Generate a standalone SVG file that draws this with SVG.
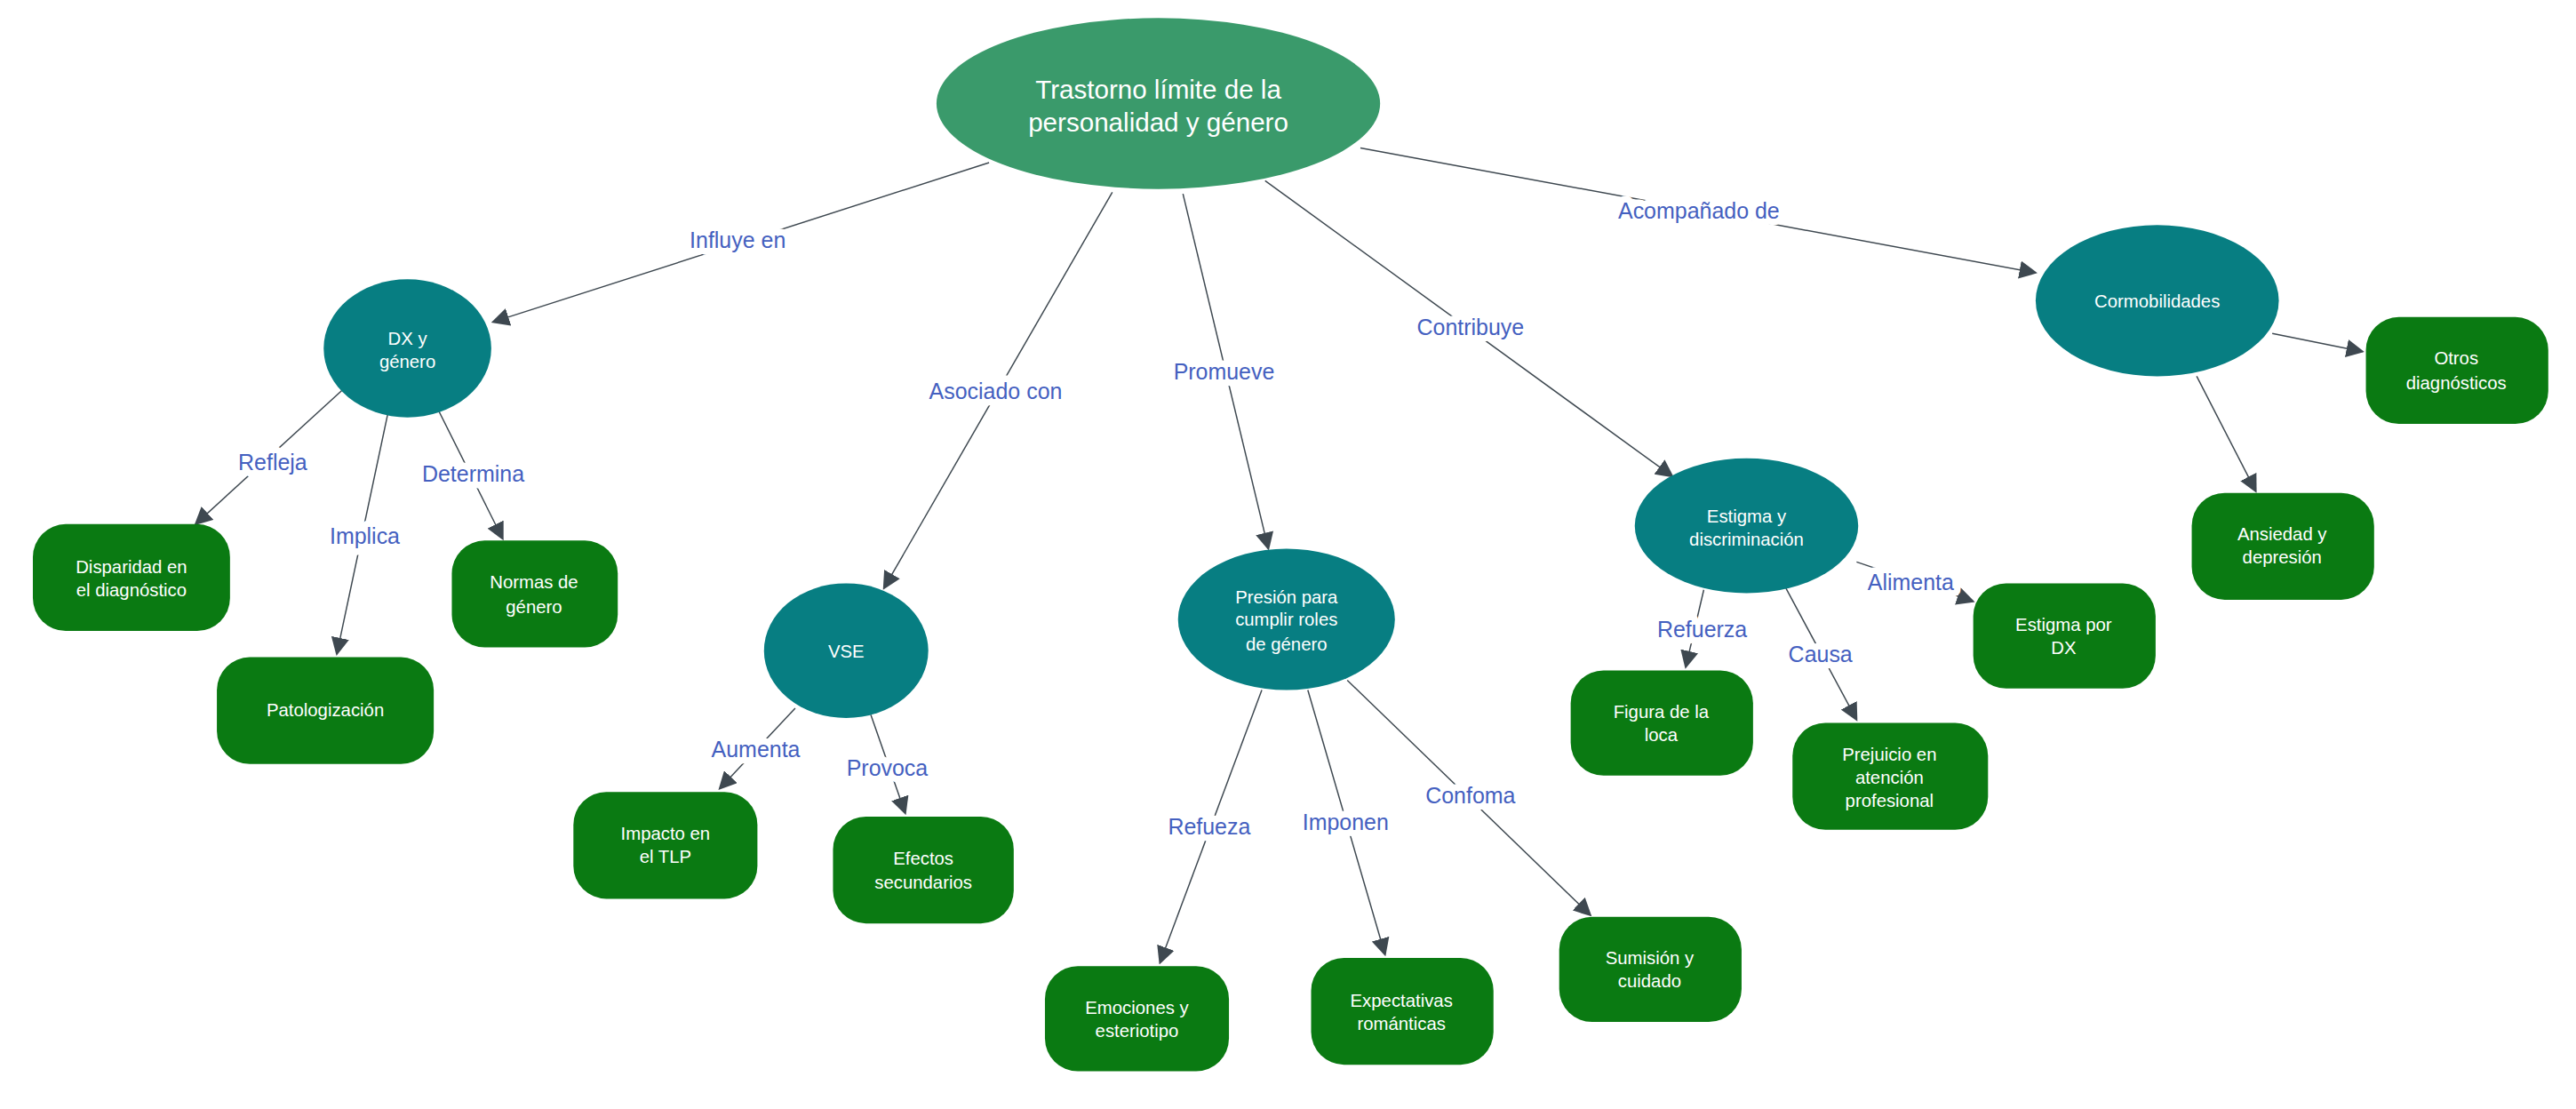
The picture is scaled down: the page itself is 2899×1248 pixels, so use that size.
<svg xmlns="http://www.w3.org/2000/svg" width="2899" height="1248" viewBox="0 0 2899 1248">
<style>
text{font-family:"Liberation Sans",Arial,sans-serif;text-anchor:middle}
.root{fill:#3a9a6b}
.ell{fill:#077e82}
.box{fill:#0a7a12}
.nt{fill:#fff;font-size:11px}
.rt{fill:#fff;font-size:16px}
.e{stroke:#3e4850;stroke-width:0.8;fill:none;marker-end:url(#ah)}
.lb{fill:#4460c0;font-size:13.5px;stroke:#fff;stroke-width:8;paint-order:stroke;stroke-linejoin:round}
</style>
<defs><marker id="ah" viewBox="0 0 10 10" refX="9" refY="5" markerWidth="11" markerHeight="11" markerUnits="userSpaceOnUse" orient="auto"><path d="M0,0L10,5L0,10z" fill="#3e4850"/></marker></defs>
<rect width="2899" height="1248" fill="#fff"/>
<g transform="scale(1.849)">
<g id="connectors">
<path class="e" d="M602,99L300,196"/><text class="lb" x="449" y="151">Influye en</text>
<path class="e" d="M677,117L538,358"/><text class="lb" x="606" y="243">Asociado con</text>
<path class="e" d="M720,118L772,334"/><text class="lb" x="745" y="231">Promueve</text>
<path class="e" d="M770,110L1018,290"/><text class="lb" x="895" y="204">Contribuye</text>
<path class="e" d="M828,90L1239,166"/><text class="lb" x="1034" y="133">Acompañado de</text>
<path class="e" d="M211,235L119,319"/><text class="lb" x="166" y="286">Refleja</text>
<path class="e" d="M236,252L205,398"/><text class="lb" x="222" y="331">Implica</text>
<path class="e" d="M267,250L306,328"/><text class="lb" x="288" y="293">Determina</text>
<path class="e" d="M484,431L438,480"/><text class="lb" x="460" y="461">Aumenta</text>
<path class="e" d="M530,435L551,495"/><text class="lb" x="540" y="472">Provoca</text>
<path class="e" d="M768,420L706,586"/><text class="lb" x="736" y="508">Refueza</text>
<path class="e" d="M796,420L843,581"/><text class="lb" x="819" y="505">Imponen</text>
<path class="e" d="M820,414L968,557"/><text class="lb" x="895" y="489">Confoma</text>
<path class="e" d="M1037,359L1026,406"/><text class="lb" x="1036" y="388">Refuerza</text>
<path class="e" d="M1087,358L1130,438"/><text class="lb" x="1108" y="403">Causa</text>
<path class="e" d="M1130,342L1201,366"/><text class="lb" x="1163" y="359">Alimenta</text>
<path class="e" d="M1383,203L1438,214"/>
<path class="e" d="M1337,229L1373,299"/>
</g>
<g id="root"><ellipse class="root" cx="705" cy="63" rx="135" ry="52"/><text class="rt" x="705" y="60">Trastorno límite de la</text><text class="rt" x="705" y="80">personalidad y género</text></g>
<g id="dx"><ellipse class="ell" cx="248" cy="212" rx="51" ry="42"/><text class="nt" x="248" y="210">DX y</text><text class="nt" x="248" y="224">género</text></g>
<g id="disparidad"><rect class="box" x="20" y="319" width="120" height="65" rx="20"/><text class="nt" x="80" y="349">Disparidad en</text><text class="nt" x="80" y="363">el diagnóstico</text></g>
<g id="patologizacion"><rect class="box" x="132" y="400" width="132" height="65" rx="20"/><text class="nt" x="198" y="436">Patologización</text></g>
<g id="normas"><rect class="box" x="275" y="329" width="101" height="65" rx="20"/><text class="nt" x="325" y="358">Normas de</text><text class="nt" x="325" y="373">género</text></g>
<g id="vse"><ellipse class="ell" cx="515" cy="396" rx="50" ry="41"/><text class="nt" x="515" y="400">VSE</text></g>
<g id="impacto"><rect class="box" x="349" y="482" width="112" height="65" rx="20"/><text class="nt" x="405" y="511">Impacto en</text><text class="nt" x="405" y="525">el TLP</text></g>
<g id="efectos"><rect class="box" x="507" y="497" width="110" height="65" rx="20"/><text class="nt" x="562" y="526">Efectos</text><text class="nt" x="562" y="541">secundarios</text></g>
<g id="presion"><ellipse class="ell" cx="783" cy="377" rx="66" ry="43"/><text class="nt" x="783" y="367">Presión para</text><text class="nt" x="783" y="381">cumplir roles</text><text class="nt" x="783" y="396">de género</text></g>
<g id="emociones"><rect class="box" x="636" y="588" width="112" height="64" rx="20"/><text class="nt" x="692" y="617">Emociones y</text><text class="nt" x="692" y="631">esteriotipo</text></g>
<g id="expectativas"><rect class="box" x="798" y="583" width="111" height="65" rx="20"/><text class="nt" x="853" y="613">Expectativas</text><text class="nt" x="853" y="627">románticas</text></g>
<g id="sumision"><rect class="box" x="949" y="558" width="111" height="64" rx="20"/><text class="nt" x="1004" y="587">Sumisión y</text><text class="nt" x="1004" y="601">cuidado</text></g>
<g id="estigma"><ellipse class="ell" cx="1063" cy="320" rx="68" ry="41"/><text class="nt" x="1063" y="318">Estigma y</text><text class="nt" x="1063" y="332">discriminación</text></g>
<g id="figura"><rect class="box" x="956" y="408" width="111" height="64" rx="20"/><text class="nt" x="1011" y="437">Figura de la</text><text class="nt" x="1011" y="451">loca</text></g>
<g id="prejuicio"><rect class="box" x="1091" y="440" width="119" height="65" rx="20"/><text class="nt" x="1150" y="463">Prejuicio en</text><text class="nt" x="1150" y="477">atención</text><text class="nt" x="1150" y="491">profesional</text></g>
<g id="estigmadx"><rect class="box" x="1201" y="355" width="111" height="64" rx="20"/><text class="nt" x="1256" y="384">Estigma por</text><text class="nt" x="1256" y="398">DX</text></g>
<g id="cormobilidades"><ellipse class="ell" cx="1313" cy="183" rx="74" ry="46"/><text class="nt" x="1313" y="187">Cormobilidades</text></g>
<g id="otros"><rect class="box" x="1440" y="193" width="111" height="65" rx="20"/><text class="nt" x="1495" y="222">Otros</text><text class="nt" x="1495" y="237">diagnósticos</text></g>
<g id="ansiedad"><rect class="box" x="1334" y="300" width="111" height="65" rx="20"/><text class="nt" x="1389" y="329">Ansiedad y</text><text class="nt" x="1389" y="343">depresión</text></g>
</g>
</svg>
